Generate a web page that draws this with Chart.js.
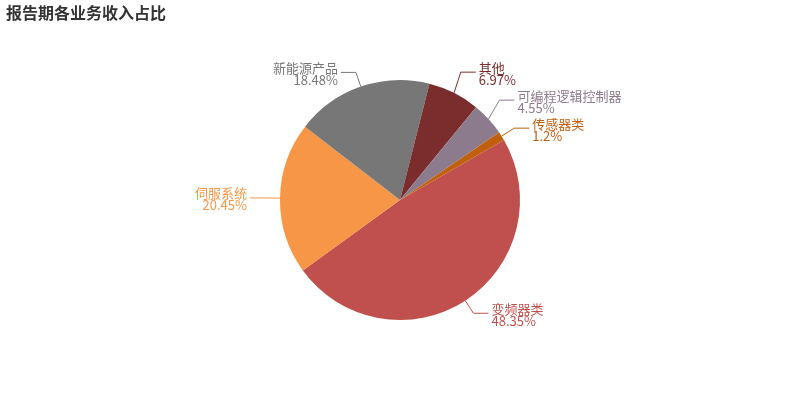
<!DOCTYPE html>
<html><head><meta charset="utf-8">
<script src="https://cdn.jsdelivr.net/npm/chart.js@4/dist/chart.umd.min.js"></script>
<style>html,body{margin:0;background:#fff}#w{width:800px;height:400px}</style>
</head><body><div id="w"><canvas id="c"></canvas></div>
<script>
const categories = ['变频器类','伺服系统','新能源产品','其他','可编程逻辑控制器','传感器类'];
const values = [48.35,20.45,18.48,6.97,4.55,1.2];
const colors = ['#c0504d','#f79646','#777777','#7b2c2c','#8c7b8c','#c0600f'];
const FONT = '"Noto Sans CJK SC","Noto Sans",sans-serif';

const labelPlugin = {
  id:'labels',
  afterDraw(chart){
    const ctx = chart.ctx;
    ctx.save();
    ctx.font = 'bold 16px '+FONT; ctx.fillStyle='#333'; ctx.textBaseline='top'; ctx.textAlign='left';
    ctx.fillText('报告期各业务收入占比', 6, 5);
    const arcs = chart.getDatasetMeta(0).data;
    const items = arcs.map((a,i)=>{
      const mid = (a.startAngle+a.endAngle)/2;
      const r = a.outerRadius;
      const px = a.x+Math.cos(mid)*r, py = a.y+Math.sin(mid)*r;
      const ex = a.x+Math.cos(mid)*(r+15), ey = a.y+Math.sin(mid)*(r+15);
      return {i,px,py,ex,ey,right:Math.cos(mid)>=0};
    });
    [true,false].forEach(side=>{
      const s = items.filter(o=>o.right===side).sort((a,b)=>a.ey-b.ey);
      for(let k=s.length-2;k>=0;k--){ if(s[k+1].ey - s[k].ey < 28) s[k].ey = s[k+1].ey-28; }
    });
    ctx.font = '13px '+FONT;
    items.forEach(o=>{
      const c = colors[o.i];
      const dir = o.right?1:-1;
      const hx = o.ex + dir*15;
      ctx.strokeStyle=c; ctx.lineWidth=1;
      ctx.beginPath(); ctx.moveTo(o.px,o.py); ctx.lineTo(o.ex,o.ey); ctx.lineTo(hx,o.ey); ctx.stroke();
      ctx.fillStyle=c; ctx.textAlign = o.right?'left':'right';
      const tx = hx + dir*3;
      ctx.textBaseline='bottom'; ctx.fillText(categories[o.i], tx, o.ey+2);
      ctx.textBaseline='top'; ctx.fillText(values[o.i]+'%', tx, o.ey+1);
    });
    ctx.restore();
  }
};

new Chart(document.getElementById('c'),{
  type:'pie',
  data:{labels:categories,datasets:[{data:values,backgroundColor:colors,borderColor:'#fff',borderWidth:0}]},
  options:{responsive:true,maintainAspectRatio:false,animation:false,rotation:60,
    layout:{padding:{top:80,bottom:80}},
    plugins:{legend:{display:false},tooltip:{enabled:false}}},
  plugins:[labelPlugin]
});
</script></body></html>
